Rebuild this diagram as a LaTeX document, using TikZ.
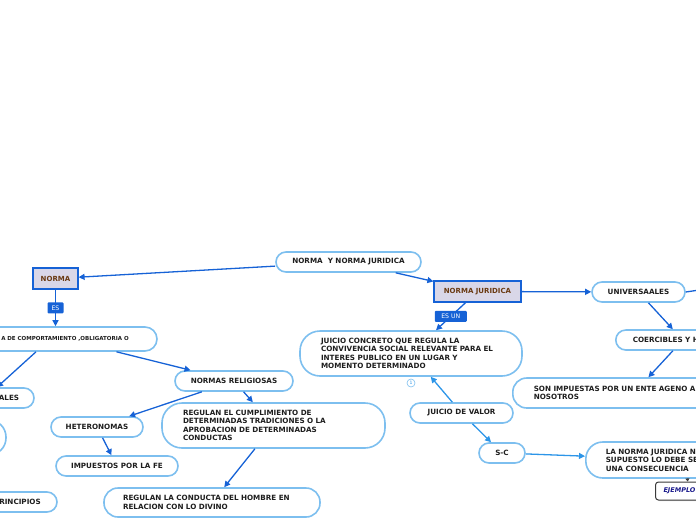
\documentclass[tikz,border=0pt]{standalone}
\usepackage{fontspec}
\setmainfont{DejaVu Sans}
\usetikzlibrary{arrows.meta,shadows}
\definecolor{njSky}{HTML}{7DBFEF}
\definecolor{njBlue}{HTML}{1662D6}
\definecolor{njLight}{HTML}{2C95E8}
\definecolor{njLilac}{HTML}{D9D7E8}
\definecolor{njBrown}{HTML}{6A3A12}
\definecolor{njInk}{HTML}{1E1E1E}
\definecolor{njNavy}{HTML}{1A1A8C}
\definecolor{njGray}{HTML}{3A3A3A}
\tikzset{
  nj box/.style={draw=njSky, line width=1.6pt, fill=white, rounded corners=10pt, minimum height=20pt, inner sep=0pt, font=\fontsize{7.2}{8.5}\selectfont\bfseries, text=njInk},
  nj para/.style={nj box, align=left},
  nj small/.style={font=\fontsize{5.5}{6.5}\selectfont\bfseries},
  nj key/.style={draw=njBlue, line width=1.2pt, fill=njLilac, minimum height=21pt, inner sep=0pt, font=\fontsize{7}{8.5}\selectfont\bfseries, text=njBrown, drop shadow={shadow xshift=1pt, shadow yshift=-1pt, opacity=0.25}},
  nj tag/.style={fill=njBlue, text=white, font=\fontsize{6.2}{6.2}\selectfont, inner sep=0pt, minimum height=11pt, rounded corners=1pt},
  nj example/.style={draw=njGray, line width=1pt, fill=white, rounded corners=3pt, minimum height=18pt, inner sep=0pt, font=\fontsize{6.5}{8}\selectfont\bfseries\itshape, text=njNavy, drop shadow={shadow xshift=1pt, shadow yshift=-1pt, opacity=0.3}},
  nj count/.style={circle, draw=njSky, line width=0.6pt, fill=white, minimum size=8pt, inner sep=0pt, font=\fontsize{4.5}{4.5}\selectfont, text=njLight},
  nj link/.style={draw=njBlue, line width=1.3pt, -{Triangle[length=6pt,width=6pt]}},
  nj soft link/.style={nj link, draw=njLight},
  nj note link/.style={draw=njGray, line width=1pt, -{Triangle[length=3pt,width=4pt]}},
}

\begin{document}
\begin{tikzpicture}[x=1pt, y=-1pt]
  \useasboundingbox (0,0) rectangle (696,520);
  \clip (0,0) rectangle (696,520);

  % centre and the two key concepts
  \node[nj box, minimum width=145pt] (top) at (348.5,262) {NORMA\ \ Y NORMA JURIDICA};
  \node[nj key, minimum width=45pt] (norma) at (55.5,278.5) {NORMA};
  \node[nj key, minimum width=87pt] (juridica) at (477.5,291.5) {NORMA JURIDICA};

  % left branch: norma
  \node[nj box, nj small, minimum width=184pt, minimum height=24pt, rounded corners=12pt] (regla) at (65,339) {A DE COMPORTAMIENTO ,OBLIGATORIA O};
  \node[nj box, minimum width=50pt] (ales) at (9,398) {ALES};
  \node[nj box, minimum width=92pt, minimum height=35pt, rounded corners=17pt] (izq) at (-40,437.5) {};
  \node[nj box, minimum width=74pt] (principios) at (20,502) {RINCIPIOS};
  \node[nj box, minimum width=118pt] (religiosas) at (234,381) {NORMAS RELIGIOSAS};
  \node[nj box, minimum width=92pt] (heteronomas) at (97,427) {HETERONOMAS};
  \node[nj box, minimum width=122pt] (fe) at (117,466) {IMPUESTOS POR LA FE};
  \node[nj para, text width=181pt, inner xsep=21pt, minimum height=45pt, rounded corners=20pt] (tradiciones) at (273.5,425.5)
    {REGULAN EL CUMPLIMIENTO DE\\DETERMINADAS TRADICIONES O LA\\APROBACION DE DETERMINADAS\\CONDUCTAS};
  \node[nj para, text width=178pt, inner xsep=19pt, minimum height=29pt, rounded corners=14pt] (divino) at (212,502.5)
    {REGULAN LA CONDUCTA DEL HOMBRE EN\\RELACION CON LO DIVINO};

  % right branch: norma juridica
  \node[nj para, text width=180pt, inner xsep=21pt, minimum height=45pt, rounded corners=20pt] (concreto) at (411,353.5)
    {JUICIO CONCRETO QUE REGULA LA\\CONVIVENCIA SOCIAL RELEVANTE PARA EL\\INTERES PUBLICO EN UN LUGAR Y\\MOMENTO DETERMINADO};
  \node[nj count] (uno) at (411,383) {1};
  \node[nj box, minimum width=103pt] (valor) at (461.5,413) {JUICIO DE VALOR};
  \node[nj box, minimum width=46pt] (sc) at (502,453) {S-C};
  \node[nj box, minimum width=93pt] (universales) at (638.5,292) {UNIVERSAALES};
  \coordinate (fuera) at (760,281);
  \node[nj para, text width=100pt, inner xsep=17pt, anchor=west] (coercibles) at (615,340) {COERCIBLES Y H};
  \node[nj para, text width=200pt, inner xsep=21pt, minimum height=30pt, rounded corners=14pt, anchor=west] (impuestas) at (512,393)
    {SON IMPUESTAS POR UN ENTE AGENO A\\NOSOTROS};
  \node[nj para, text width=160pt, inner xsep=20pt, minimum height=36pt, rounded corners=17pt, anchor=west] (consecuencia) at (585,460)
    {LA NORMA JURIDICA N\\SUPUESTO LO DEBE SE\\UNA CONSECUENCIA};
  \node[nj example, text width=50pt, inner xsep=8pt, align=left, anchor=west] (ejemplo) at (655,491) {EJEMPLO};

  % connectors
  \draw[nj link] (top) -- (norma);
  \draw[nj link] (top) -- (juridica);
  \draw[nj link] (norma) -- node[nj tag, minimum width=16pt] {ES} (norma |- regla.north);
  \draw[nj link] (juridica) -- node[nj tag, minimum width=32pt] {ES UN} (concreto);
  \draw[nj link] ([xshift=-29pt]regla.south) -- ([xshift=-12pt]ales.north);
  \draw[nj link] (regla) -- (religiosas);
  \draw[nj link] (religiosas) -- (heteronomas);
  \draw[nj link] (religiosas) -- (tradiciones);
  \draw[nj link] (heteronomas) -- (fe);
  \draw[nj link] (tradiciones) -- (divino);
  \draw[nj link] (juridica) -- (universales);
  \draw[nj link] (universales.east) -- (fuera);
  \draw[nj link] (universales) -- (coercibles);
  \draw[nj link] (coercibles) -- (impuestas);
  \draw[nj soft link] (valor) -- (concreto);
  \draw[nj soft link] (valor) -- (sc);
  \draw[nj soft link] (sc) -- (consecuencia);
  \draw[nj note link] (consecuencia) -- (ejemplo);
\end{tikzpicture}
\end{document}
